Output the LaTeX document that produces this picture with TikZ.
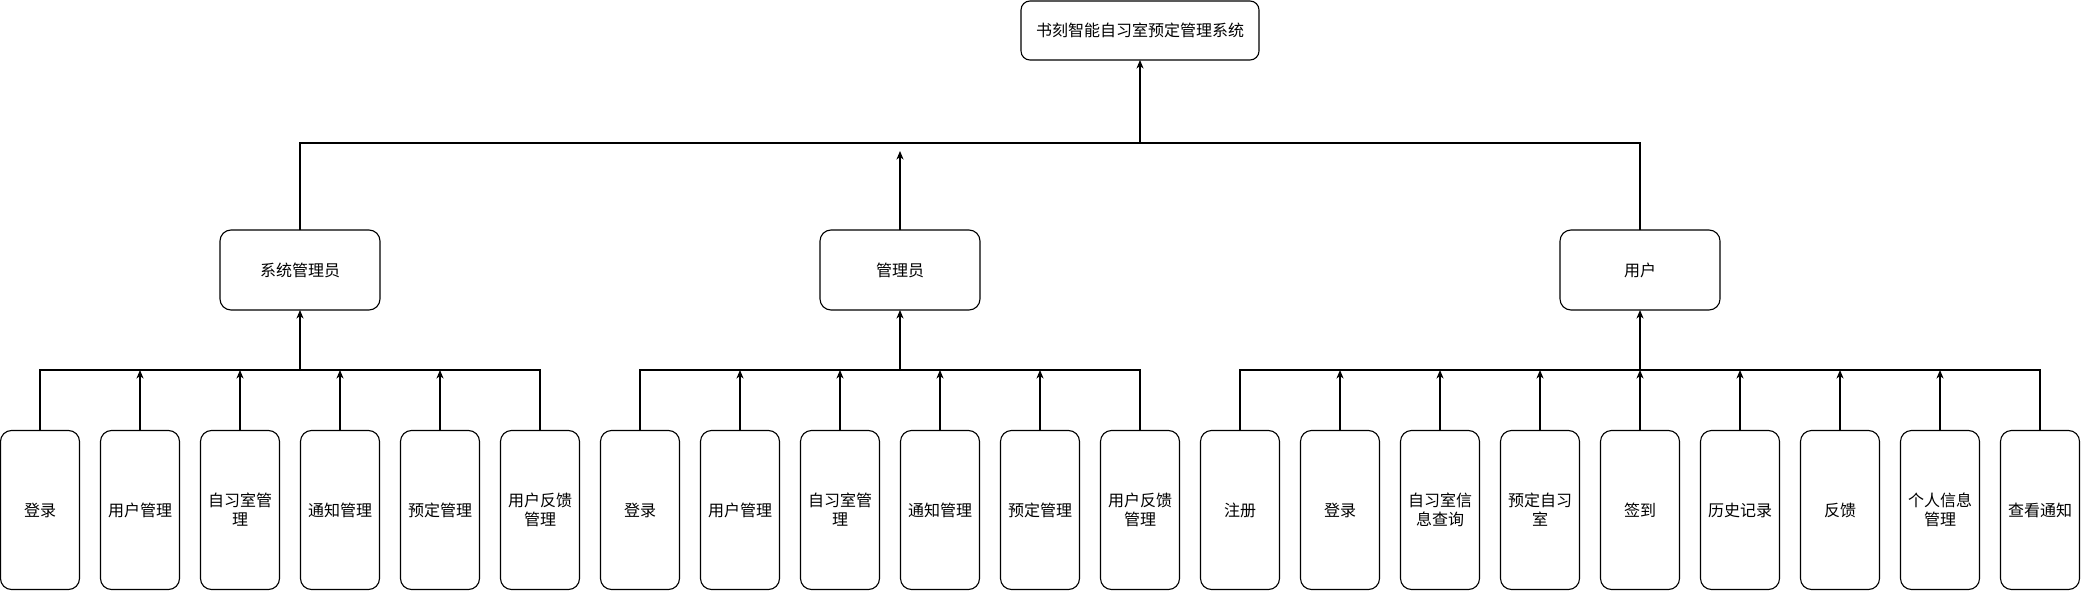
\documentclass[tikz,border=0pt]{standalone}
\usepackage{fontspec}
\setmainfont{Noto Sans CJK SC}
\usetikzlibrary{arrows.meta}
\begin{document}
\begin{tikzpicture}[x=1pt,y=-1pt,
  box/.style={draw, line width=1.1pt, inner sep=0pt, outer sep=0pt, align=center, font=\fontsize{16pt}{19pt}\selectfont},
  leaf/.style={box, rounded corners=11pt, minimum width=79pt, minimum height=159pt},
  role/.style={box, rounded corners=11pt, minimum width=160pt, minimum height=80pt},
  topbox/.style={box, rounded corners=9pt, minimum width=238pt, minimum height=59pt},
  conn/.style={line width=1.1pt},
  arr/.style={conn, -{Stealth[length=8.5pt,width=7pt,inset=2.5pt]}}]
\useasboundingbox (0,0) rectangle (2081,591);

% top
\node[topbox] (top) at (1140,30.5) {书刻智能自习室预定管理系统};

% roles
\node[role] (sa) at (300,270) {系统管理员};
\node[role] (mg) at (900,270) {管理员};
\node[role] (us) at (1640,270) {用户};

% system admin leaves
\node[leaf] (a1) at (40,510) {登录};
\node[leaf] (a2) at (140,510) {用户管理};
\node[leaf] (a3) at (240,510) {自习室管\\理};
\node[leaf] (a4) at (340,510) {通知管理};
\node[leaf] (a5) at (440,510) {预定管理};
\node[leaf] (a6) at (540,510) {用户反馈\\管理};

% admin leaves
\node[leaf] (m1) at (640,510) {登录};
\node[leaf] (m2) at (740,510) {用户管理};
\node[leaf] (m3) at (840,510) {自习室管\\理};
\node[leaf] (m4) at (940,510) {通知管理};
\node[leaf] (m5) at (1040,510) {预定管理};
\node[leaf] (m6) at (1140,510) {用户反馈\\管理};

% user leaves
\node[leaf] (u1) at (1240,510) {注册};
\node[leaf] (u2) at (1340,510) {登录};
\node[leaf] (u3) at (1440,510) {自习室信\\息查询};
\node[leaf] (u4) at (1540,510) {预定自习\\室};
\node[leaf] (u5) at (1640,510) {签到};
\node[leaf] (u6) at (1740,510) {历史记录};
\node[leaf] (u7) at (1840,510) {反馈};
\node[leaf] (u8) at (1940,510) {个人信息\\管理};
\node[leaf] (u9) at (2040,510) {查看通知};

% bus coordinates
\coordinate (busT) at (1140,143);
\coordinate (mtip) at (900,151);
\coordinate (busA) at (300,370);
\coordinate (busM) at (900,370);
\coordinate (busU) at (1640,370);

% top level
\draw[conn] (sa.north) -- (sa.north |- busT) -- (us.north |- busT) -- (us.north);
\draw[arr] (busT) -- (top.south);
\draw[arr] (mg.north) -- (mtip);

% system admin group
\draw[conn] (a1.north) -- (a1.north |- busA) -- (a6.north |- busA) -- (a6.north);
\foreach \n in {a2,a3,a4,a5} \draw[arr] (\n.north) -- (\n.north |- busA);
\draw[arr] (busA) -- (sa.south);

% admin group
\draw[conn] (m1.north) -- (m1.north |- busM) -- (m6.north |- busM) -- (m6.north);
\foreach \n in {m2,m3,m4,m5} \draw[arr] (\n.north) -- (\n.north |- busM);
\draw[arr] (busM) -- (mg.south);

% user group
\draw[conn] (u1.north) -- (u1.north |- busU) -- (u9.north |- busU) -- (u9.north);
\foreach \n in {u2,u3,u4,u5,u6,u7,u8} \draw[arr] (\n.north) -- (\n.north |- busU);
\draw[arr] (busU) -- (us.south);
\end{tikzpicture}
\end{document}
